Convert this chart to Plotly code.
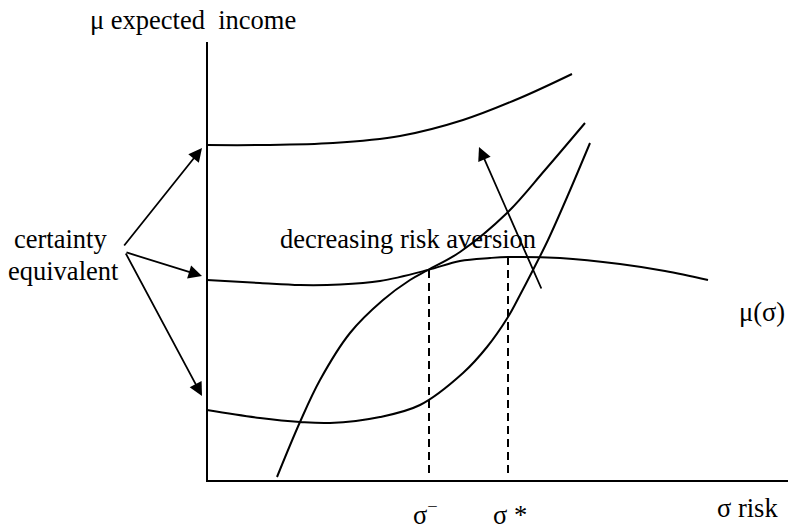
import plotly.graph_objects as go

# Curve points: x = risk (sigma), y = expected income (mu)
top_x = [0, 53, 126, 193, 256, 313, 365]
top_y = [336, 336, 338, 345, 361, 383, 407]

mu_x = [0, 53, 93, 133, 173, 221, 253, 283, 301, 353, 413, 458, 501]
mu_y = [201, 198, 196, 196.5, 200, 211, 220, 223, 224, 223, 217, 210, 201]

steep_x = [70, 93, 113, 143, 176, 203, 221, 253, 300, 338, 378]
steep_y = [4, 59, 101, 148, 181, 201, 211, 229, 268, 311, 358]

low_x = [0, 53, 93, 123, 173, 213, 256, 280, 301, 313, 326, 341, 361, 383]
low_y = [71, 63, 59, 58, 64, 76, 108, 134, 164, 186, 211, 241, 286, 338]

# Critical risk levels and their mu values
sigma_minus = 222
sigma_star = 301
mu_at_sigma_minus = 211
mu_at_sigma_star = 224

# Certainty equivalents on the mu axis
ce_values = [333, 205, 85]
ce_label_anchor = [(-84, 234), (-82, 229), (-82, 229)]

# Direction of decreasing risk aversion
dra_tail = (335, 191)
dra_head = (272, 334)

X_RANGE = [-207, 581]
Y_RANGE = [-50, 481]
AXIS_TOP = 439

FONT = "Liberation Serif, Times New Roman, serif"
FONT_SIZE = 26.5

fig = go.Figure()

for xs, ys in [(top_x, top_y), (mu_x, mu_y), (steep_x, steep_y), (low_x, low_y)]:
    fig.add_trace(go.Scatter(x=xs, y=ys, mode="lines",
                             line=dict(color="black", width=2, shape="spline", smoothing=1.0),
                             hoverinfo="skip", showlegend=False))

# axes
fig.add_trace(go.Scatter(x=[0, 0, X_RANGE[1]], y=[AXIS_TOP, 0, 0], mode="lines",
                         line=dict(color="black", width=2), hoverinfo="skip", showlegend=False))

# dashed drop lines
for sx, sy in [(sigma_minus, mu_at_sigma_minus), (sigma_star, mu_at_sigma_star)]:
    fig.add_trace(go.Scatter(x=[sx, sx], y=[8, sy], mode="lines",
                             line=dict(color="black", width=2, dash="8px,5px"),
                             hoverinfo="skip", showlegend=False))

annotations = []
for (tx, ty), ce in zip(ce_label_anchor, ce_values):
    annotations.append(dict(x=-5, y=ce, ax=tx, ay=ty, xref="x", yref="y",
                            axref="x", ayref="y", text="", showarrow=True,
                            arrowhead=2, arrowsize=1.5, arrowwidth=1.8, arrowcolor="black"))
annotations.append(dict(x=dra_head[0], y=dra_head[1], ax=dra_tail[0], ay=dra_tail[1],
                        xref="x", yref="y", axref="x", ayref="y", text="", showarrow=True,
                        arrowhead=2, arrowsize=1.5, arrowwidth=1.8, arrowcolor="black"))

texts = [
    ("\u03bc expected  income", -14, 461),
    ("certainty", -147, 242),
    ("equivalent", -144, 210),
    ("decreasing risk aversion", 201, 242),
    ("\u03c3<sup>\u2212</sup>", sigma_minus - 4, -32),
    ("\u03c3 *", sigma_star + 2, -34),
    ("\u03c3 risk", 540, -27),
    ("\u03bc(\u03c3)", 555, 169),
]
for t, x, y in texts:
    annotations.append(dict(x=x, y=y, xref="x", yref="y", text=t, showarrow=False,
                            font=dict(family=FONT, size=FONT_SIZE, color="black"),
                            xanchor="center", yanchor="middle"))

fig.update_layout(
    width=788, height=531,
    margin=dict(l=0, r=0, t=0, b=0),
    paper_bgcolor="white", plot_bgcolor="white",
    xaxis=dict(range=X_RANGE, visible=False, fixedrange=True),
    yaxis=dict(range=Y_RANGE, visible=False, fixedrange=True),
    annotations=annotations,
    showlegend=False,
)

fig.write_html("out.html", config={"displayModeBar": False})
